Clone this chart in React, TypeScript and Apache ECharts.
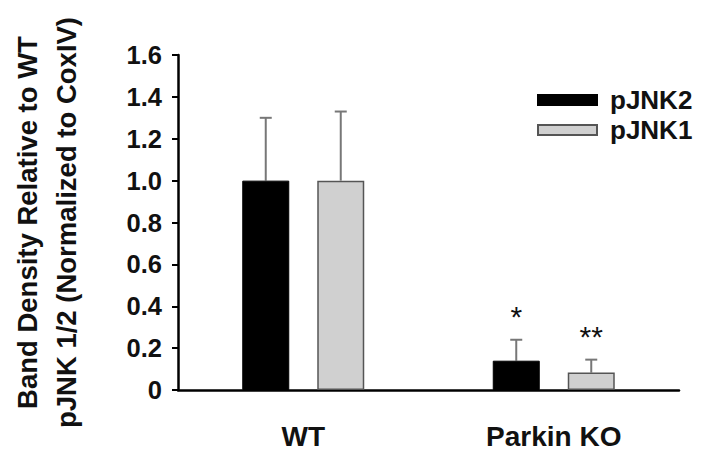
import React, { useEffect, useRef } from "react";
import * as echarts from "echarts";

const categories = ["WT", "Parkin KO"];
const seriesNames = ["pJNK2", "pJNK1"];
const pJNK2 = [1.0, 0.14];
const pJNK2Err = [0.3, 0.1];
const pJNK2Sig = ["", "*"];
const pJNK1 = [1.0, 0.083];
const pJNK1Err = [0.33, 0.062];
const pJNK1Sig = ["", "**"];
const yTicks = [0, 0.2, 0.4, 0.6, 0.8, 1.0, 1.2, 1.4, 1.6];

const FONT = "'Liberation Sans', Arial, sans-serif";
const BAR_W = 47;
const BAR_GAP_PX = 28;

function errSeries(name: string, vals: number[], errs: number[], sig: string[], dir: number) {
  return {
    type: "custom",
    name: name + " err",
    z: 1,
    silent: true,
    data: vals.map((v, i) => [i, v, errs[i]]),
    renderItem: (params: any, api: any) => {
      const idx = api.value(0);
      const v = api.value(1);
      const e = api.value(2);
      const s = sig[params.dataIndex];
      const base = api.coord([idx, v]);
      const topP = api.coord([idx, v + e]);
      const off = (dir * (BAR_W + BAR_GAP_PX)) / 2;
      const x = base[0] + off;
      const capHalf = 6;
      const children: any[] = [
        { type: "line", shape: { x1: x, y1: base[1], x2: x, y2: topP[1] }, style: { stroke: "#777", lineWidth: 2 } },
        { type: "line", shape: { x1: x - capHalf, y1: topP[1], x2: x + capHalf, y2: topP[1] }, style: { stroke: "#777", lineWidth: 2 } },
      ];
      if (s) {
        children.push({
          type: "text",
          style: {
            text: s,
            x: x,
            y: topP[1] - 8,
            textAlign: "center",
            textVerticalAlign: "bottom",
            fontSize: 30,
            fontFamily: FONT,
            fill: "#111",
          },
        });
      }
      return { type: "group", children };
    },
  };
}

export default function App() {
  const ref = useRef<HTMLDivElement>(null);
  useEffect(() => {
    const chart = echarts.init(ref.current!, null, { renderer: "svg" });
    chart.setOption({
      animation: false,
      backgroundColor: "#fff",
      grid: { left: 175, right: 28, top: 55, bottom: 61, containLabel: false },
      legend: {
        data: seriesNames,
        orient: "vertical",
        left: 537,
        top: 87,
        padding: 0,
        itemWidth: 59,
        itemHeight: 10,
        itemGap: 4,
        icon: "rect",
        textStyle: { fontFamily: FONT, fontWeight: "bold", fontSize: 26, color: "#111", lineHeight: 26, padding: [0, 0, 0, 8] },
      },
      xAxis: {
        type: "category",
        data: categories,
        axisLine: { lineStyle: { color: "#000", width: 2.5 } },
        axisTick: { alignWithLabel: true, length: 5, lineStyle: { color: "#444", width: 1 } },
        axisLabel: { fontFamily: FONT, fontWeight: "bold", fontSize: 28, color: "#111", margin: 32 },
      },
      yAxis: {
        type: "value",
        min: yTicks[0],
        max: yTicks[yTicks.length - 1],
        interval: 0.2,
        name: "Band Density Relative to WT\npJNK 1/2 (Normalized to CoxIV)",
        nameLocation: "middle",
        nameRotate: 90,
        nameGap: 92,
        nameTextStyle: { fontFamily: FONT, fontWeight: "bold", fontSize: 27.5, color: "#111", lineHeight: 39 },
        splitLine: { show: false },
        axisLine: { show: true, lineStyle: { color: "#000", width: 2.5 } },
        axisTick: { show: true, length: 6, lineStyle: { color: "#000", width: 2 } },
        axisLabel: {
          fontFamily: FONT,
          fontWeight: "bold",
          fontSize: 25.5,
          color: "#111",
          margin: 16,
          formatter: (v: number) => (v === 0 ? "0" : v.toFixed(1)),
        },
      },
      series: [
        {
          type: "bar",
          name: seriesNames[0],
          data: pJNK2,
          barWidth: BAR_W,
          barGap: (BAR_GAP_PX / BAR_W) * 100 + "%",
          itemStyle: { color: "#000", borderColor: "#000", borderWidth: 1 },
          z: 2,
        },
        {
          type: "bar",
          name: seriesNames[1],
          data: pJNK1,
          barWidth: BAR_W,
          barGap: (BAR_GAP_PX / BAR_W) * 100 + "%",
          itemStyle: { color: "#d0d0d0", borderColor: "#555", borderWidth: 1.5 },
          z: 2,
        },
        errSeries(seriesNames[0], pJNK2, pJNK2Err, pJNK2Sig, -1),
        errSeries(seriesNames[1], pJNK1, pJNK1Err, pJNK1Sig, 1),
      ],
    });
    return () => chart.dispose();
  }, []);
  return <div ref={ref} style={{ width: 707, height: 451, position: "absolute", left: 0, top: 0 }} />;
}
